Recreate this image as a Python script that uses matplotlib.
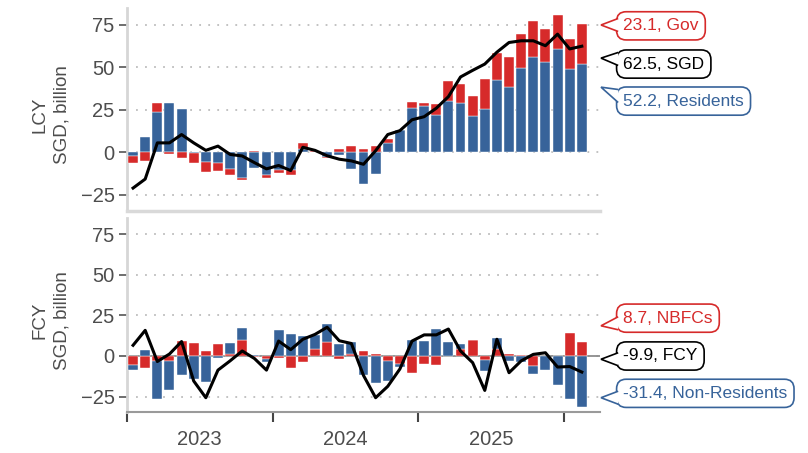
import numpy as np
import pandas as pd
import matplotlib
matplotlib.use("Agg")
import matplotlib.pyplot as plt
import matplotlib.transforms as mtransforms
from matplotlib.patches import Polygon

plt.rcParams['font.family'] = ['Liberation Sans', 'DejaVu Sans']

# ---------------- data ----------------
months = pd.period_range('2023-01', '2026-02', freq='M')
years = ['2023', '2024', '2025']

lcy_residents = [-2, 9, 24, 29, 25.5, -0.5, -5.6, -6.4, -9.9, -14.8, -8.9, -13.4, -10.2, -10.6,
                 2, 0.5, -2.5, -1.5, -9.9, -18.8, -12.8, 5.6, 13.2, 26, 27.3, 22, 30.4, 29.3,
                 21.7, 25.8, 42.4, 38.6, 49.8, 56.4, 53.1, 60.7, 48.8, 52.2]
lcy_gov = [-4.3, -5, 4.8, -1.2, -3.1, -6, -5.8, -4.8, -3.3, -1.4, 0.8, -1.4, -1.9, -2.5,
           3.5, 0.5, -0.8, 2, 4, 2, 3.7, 2, 0, 3.5, 1.5, 6.2, 11.6, 10.7,
           11.6, 17.6, 15.9, 17.4, 19.8, 20.9, 19.8, 20, 17.8, 23.1]
lcy_total = [-21, -15.7, 5.6, 5.6, 10.5, 5.6, 1.2, 3.7, -1.2, -2.1, -6, -9.7, -7.7, -10.7,
             3, 1.2, -2, -4, -5, -7, 1, 10.5, 12.8, 19.2, 21, 26, 32.8, 44.4,
             48.3, 52, 59, 64.7, 65.7, 65.7, 62.8, 69.6, 60.9, 62.5]

fcy_nbfcs = [-5.5, -7.6, -3, -3.3, 9.2, 8.2, 3.3, 7.2, 1, 9.9, -0.5, -1.6, -1.5, -7.2,
             -3.7, 4.3, 8.4, -1.8, 1, 3.3, 1.3, -3.1, -5, -10.7, -4.7, -5.7, 0.3, 4.1,
             9.9, -2.5, 4.1, 1.4, 0.8, -6.2, 0.3, 0.3, 14.4, 8.7]
fcy_nonres = [-3, 3.6, -23.6, -17.4, -11.9, -14.4, -15.9, -1.3, 7.2, 7.6, 0.5, -2, 15.8, 13.5,
              12.3, 8.7, 11.1, 7.2, 7.5, -11.9, -16.4, -12.3, -2, 9.9, 9.2, 16.4, 8.6, 3.1,
              0, -6.8, 7.2, -3.1, -4, -5.1, -8.8, -18, -26.3, -31.4]
fcy_total = [6.6, 15.8, -3.4, 1.2, 8.9, -15.4, -25.7, -8.7, -3, 3.1, -1.5, -8.7, 9.2, 3.9,
             10.3, 13.3, 17.7, 9.4, 7.7, -12, -25.7, -18.7, -8, 9.2, 13, 13, 16.6, 3.1,
             -4.1, -21.2, 10.3, -10.3, -3, 1, 2, -6.8, -6.5, -9.9]

BLUE = '#37639a'
RED = '#d62a2a'
GREY_TXT = '#4d4d4d'

x = np.arange(len(months)) + 0.5

fig = plt.figure(figsize=(8.08, 4.53), dpi=100)
W, H = 808, 453
def rect(l, t, r, b):
    return [l / W, 1 - b / H, (r - l) / W, (b - t) / H]

ax1 = fig.add_axes(rect(127, 8, 600, 211))
ax2 = fig.add_axes(rect(127, 218, 600, 412))


def stack(ax, series, colors):
    pos = np.zeros(len(x))
    neg = np.zeros(len(x))
    for vals, c in zip(series, colors):
        v = np.asarray(vals, float)
        bottom = np.where(v >= 0, pos, neg)
        ax.bar(x, v, width=0.82, bottom=bottom, color=c, edgecolor='white',
               linewidth=0.3, zorder=3)
        pos = pos + np.where(v >= 0, v, 0)
        neg = neg + np.where(v < 0, v, 0)


def style(ax, ylabel):
    ax.set_xlim(0, 39)
    ax.set_ylim(-34.5, 85)
    ax.set_yticks([-25, 0, 25, 50, 75])
    ax.yaxis.grid(True, color='#bdbdbd', linestyle=(0, (1, 4)), linewidth=1.3, zorder=0)
    ax.set_axisbelow(True)
    for s in ['top', 'right']:
        ax.spines[s].set_visible(False)
    ax.spines['left'].set_color('#d6d6d6')
    ax.spines['left'].set_linewidth(2)
    ax.tick_params(axis='y', length=6, width=1.2, color='#555555', labelsize=14.5,
                   labelcolor=GREY_TXT, pad=3)
    ax.set_ylabel(ylabel, fontsize=13.5, color=GREY_TXT, linespacing=1.4)
    ax.yaxis.set_label_coords(-0.12, 0.473)


# top panel
stack(ax1, [lcy_residents, lcy_gov], [BLUE, RED])
ax1.plot(x, lcy_total, color='black', lw=2.2, zorder=4, solid_joinstyle='round')
style(ax1, 'LCY\nSGD, billion')
ax1.spines['bottom'].set_color('#d9d9d9')
ax1.spines['bottom'].set_linewidth(2.5)
ax1.tick_params(axis='x', bottom=False, labelbottom=False)

# bottom panel
stack(ax2, [fcy_nbfcs, fcy_nonres], [RED, BLUE])
ax2.axhline(0, color='#8c8c8c', lw=1.3, zorder=2)
ax2.plot(x, fcy_total, color='black', lw=2.2, zorder=4, solid_joinstyle='round')
style(ax2, 'FCY\nSGD, billion')
ax2.spines['bottom'].set_color('#9a9a9a')
ax2.spines['bottom'].set_linewidth(1.5)
ax2.set_xticks([0, 12, 24, 36])
ax2.set_xticklabels([])
ax2.set_xticks([6, 18, 30], minor=True)
ax2.set_xticklabels(years, minor=True)
ax2.tick_params(axis='x', which='major', length=7, width=1.5, color='#444444')
ax2.tick_params(axis='x', which='minor', length=0, labelsize=14.5, labelcolor=GREY_TXT, pad=13)

# ---------------- callouts ----------------
callouts = []


def callout(ax, tip_y, text_y, label, color):
    tr = mtransforms.blended_transform_factory(ax.transAxes, ax.transData)
    t = ax.text(1.049, text_y, label, transform=tr, ha='left', va='center',
                fontsize=12.5, color=color, clip_on=False, zorder=6,
                bbox=dict(boxstyle='round,pad=0.38,rounding_size=0.55', fc='white',
                          ec=color, lw=1.2))
    callouts.append((ax, t, tip_y, color))


callout(ax1, 75, 74.5, f'{lcy_gov[-1]:.1f}, Gov', RED)
callout(ax1, 55.5, 52, f'{lcy_total[-1]:.1f}, SGD', 'black')
callout(ax1, 38.4, 30.2, f'{lcy_residents[-1]:.1f}, Residents', BLUE)

callout(ax2, 18.6, 23.3, f'{fcy_nbfcs[-1]:.1f}, NBFCs', RED)
callout(ax2, -2, 0, f'{fcy_total[-1]:.1f}, FCY', 'black')
callout(ax2, -25.7, -23, f'{fcy_nonres[-1]:.1f}, Non-Residents', BLUE)

fig.canvas.draw()
ident = mtransforms.IdentityTransform()
for ax, t, tip_y, color in callouts:
    bb = t.get_bbox_patch().get_window_extent()
    tip_x = ax.transAxes.transform((1.0, 0))[0] + 1
    tip_py = ax.transData.transform((0, tip_y))[1]
    cy = 0.5 * (bb.y0 + bb.y1)
    half = 0.5 * bb.height - 9
    base_c = min(max(tip_py, cy - half), cy + half)
    xb = bb.x0 + 1.6
    poly = Polygon([(xb, base_c + 6.5), (tip_x, tip_py), (xb, base_c - 6.5)], closed=False,
                   fc='white', ec=color, lw=1.2, transform=ident, zorder=7,
                   joinstyle='miter')
    fig.add_artist(poly)

fig.savefig('out.png', dpi=100)
